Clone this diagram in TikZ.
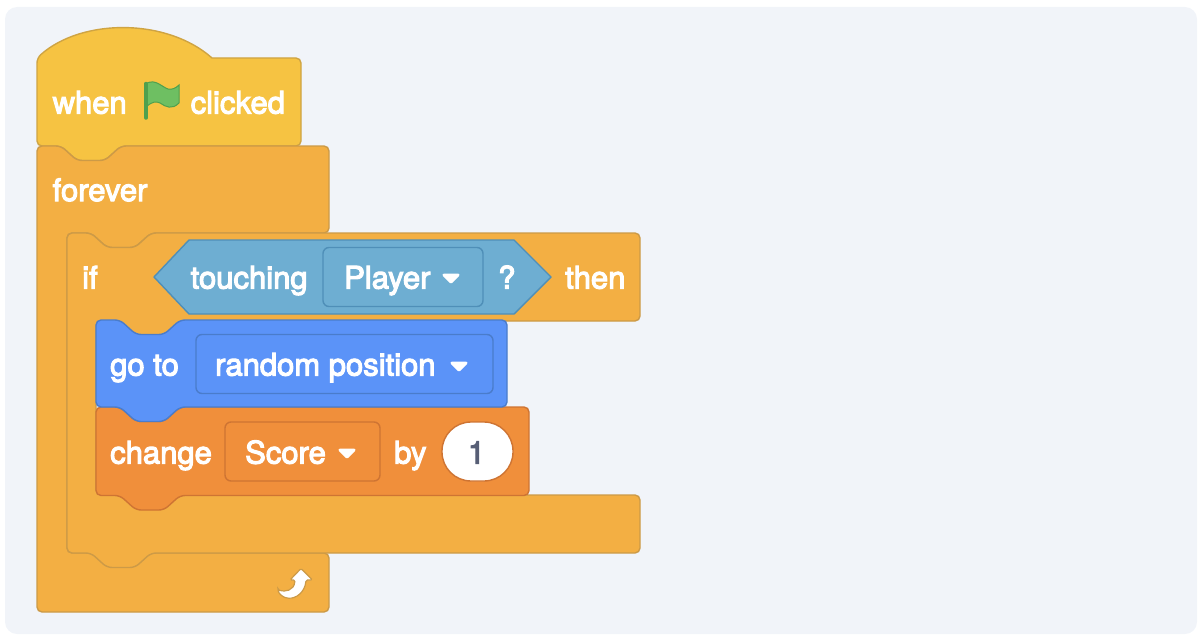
\documentclass[tikz,border=0pt]{standalone}
\usepackage{fontspec}
\setmainfont{TeX Gyre Heros}[FakeBold=3.5]
\usetikzlibrary{positioning}

\definecolor{panelbg}{HTML}{F1F4F9}
\definecolor{hatfill}{HTML}{F6C342}
\definecolor{hatline}{HTML}{CFA443}
\definecolor{ctrlfill}{HTML}{F3AF43}
\definecolor{ctrlline}{HTML}{CC9A47}
\definecolor{senfill}{HTML}{6EAED2}
\definecolor{senline}{HTML}{4F8FB8}
\definecolor{motfill}{HTML}{5B93F8}
\definecolor{motline}{HTML}{4A7CCB}
\definecolor{varfill}{HTML}{F08F3B}
\definecolor{varline}{HTML}{CE7433}
\definecolor{flagfill}{HTML}{6EBF62}
\definecolor{flagline}{HTML}{4FA04E}
\definecolor{numtext}{HTML}{575E75}

% bump hanging below an edge, walked to the left / notch cut in a top edge, walked to the right
\tikzset{
  bumpleft/.style={insert path={-- ++(-16,14.5) -- ++(-28,0) -- ++(-16,-14.5)}},
  notchright/.style={insert path={-- ++(24,0) -- ++(16,14.5) -- ++(28,0) -- ++(16,-14.5)}}
}

\begin{document}
\begin{tikzpicture}[
  x=1pt, y=-1pt,
  block/.style={line width=1.4pt, rounded corners=5pt},
  hatblock/.style={block, fill=hatfill, draw=hatline},
  ctrlblock/.style={block, fill=ctrlfill, draw=ctrlline},
  motblock/.style={block, fill=motfill, draw=motline},
  varblock/.style={block, fill=varfill, draw=varline},
  lab/.style={font=\fontsize{31}{31}\selectfont, text=white, inner sep=0pt, anchor=base west},
  menu/.style={rectangle, rounded corners=6pt, line width=1.4pt, minimum height=59pt, inner sep=0pt},
  caret/.style={fill=white, draw=white, line width=3pt, line join=round}
]
\useasboundingbox (0,0) rectangle (1204,642);
\fill[panelbg, rounded corners=12pt] (5,7) rectangle (1197,634);

% ===== HAT =====
\draw[hatblock] (37,70) -- (37,58) [sharp corners] .. controls (82,18) and (167,18) .. (212,58)
  [rounded corners=5pt] -- (301,58) -- (301,146) -- (121,146) [bumpleft] -- (37,146) -- cycle;
\node[lab] (when_lab) at (52.5,113.5) {when};
\draw[fill=flagfill, draw=flagline, line width=1pt] (147,83) .. controls (156,79) and (162,87) .. (168,89)
  .. controls (172,90) and (176,88) .. (179,85) -- (179,103) .. controls (172,110) and (166,107) .. (160,103)
  .. controls (156,101) and (152,102) .. (147,106) -- cycle;
\draw[flagline, line width=3.5pt, line cap=round] (146,83.5) -- (146,118);
\node[lab] (clicked_lab) at (190.5,113.5) {clicked};

% ===== FOREVER =====
\draw[ctrlblock] (37,160) -- (37,146) [notchright] -- (329,146) -- (329,233) -- (151,233) [bumpleft] -- (67,233)
  -- (67,553) -- (329,553) -- (329,612) -- (37,612) -- cycle;
\node[lab] (forever_lab) at (52.5,201) {forever};
\draw[fill=white, draw=ctrlline, line width=1.2pt, rounded corners=1.5pt] (278,590) .. controls (285,592) and (294,591) .. (295,580)
  -- (290,580) -- (301,568.5) -- (312.5,580) -- (306,580) .. controls (305,592) and (296,599) .. (287,598) .. controls (283,597) and (279,594) .. (278,590) -- cycle;

% ===== IF =====
\draw[ctrlblock] (67,247) -- (67,233) [notchright] -- (640,233) -- (640,321) -- (180,321) [bumpleft] -- (96,321)
  -- (96,495) -- (640,495) -- (640,553) -- (151,553) [bumpleft] -- (67,553) -- cycle;
\node[lab] (if_lab) at (82,288.5) {if};
\node[lab] (then_lab) at (565,288.5) {then};

% ===== CONDITION =====
\draw[fill=senfill, draw=senline, line width=1.4pt, line join=round] (154,277) -- (189,240) -- (514,240) -- (551,277) -- (514,314) -- (189,314) -- cycle;
\node[lab] (touching_lab) at (190.5,288.5) {touching};
\node[menu, draw=senline, fill=senfill, minimum width=160pt] (player_menu) at (403,277) {};
\node[lab] (player_lab) at (344,288.5) {Player};
\draw[caret] (444,275) -- (458,275) -- (451,282) -- cycle;
\node[lab] (question_lab) at (498,288.5) {?};

% ===== CHANGE =====
\draw[varblock] (96,420) -- (96,407) [notchright] -- (529,407) -- (529,495.5) -- (180,495.5) [bumpleft] -- (96,495.5) -- cycle;
\node[lab] (change_lab) at (110,463.5) {change};
\node[menu, draw=varline, fill=varfill, minimum width=155pt] (score_menu) at (302.5,451.5) {};
\node[lab] (score_lab) at (245,463.5) {Score};
\draw[caret] (340,450) -- (354,450) -- (347,457) -- cycle;
\node[lab] (by_lab) at (394,463.5) {by};
\node[rectangle, rounded corners=29pt, draw=varline, fill=white, line width=1.4pt, minimum width=71pt, minimum height=59pt, inner sep=0pt] (num_pill) at (477.5,451.5) {};
\node[lab, text=numtext, anchor=base] (num_lab) at (476.5,463.5) {1};

% ===== GO TO =====
\draw[motblock] (96,334) -- (96,320) [notchright] -- (507,320) -- (507,407) -- (180,407) [bumpleft] -- (96,407) -- cycle;
\node[lab] (goto_lab) at (110,375.5) {go to};
\node[menu, draw=motline, fill=motfill, minimum width=297pt] (pos_menu) at (344.5,364) {};
\node[lab] (pos_lab) at (215,375.5) {random position};
\draw[caret] (452,363) -- (466,363) -- (459,370) -- cycle;

\end{tikzpicture}
\end{document}
